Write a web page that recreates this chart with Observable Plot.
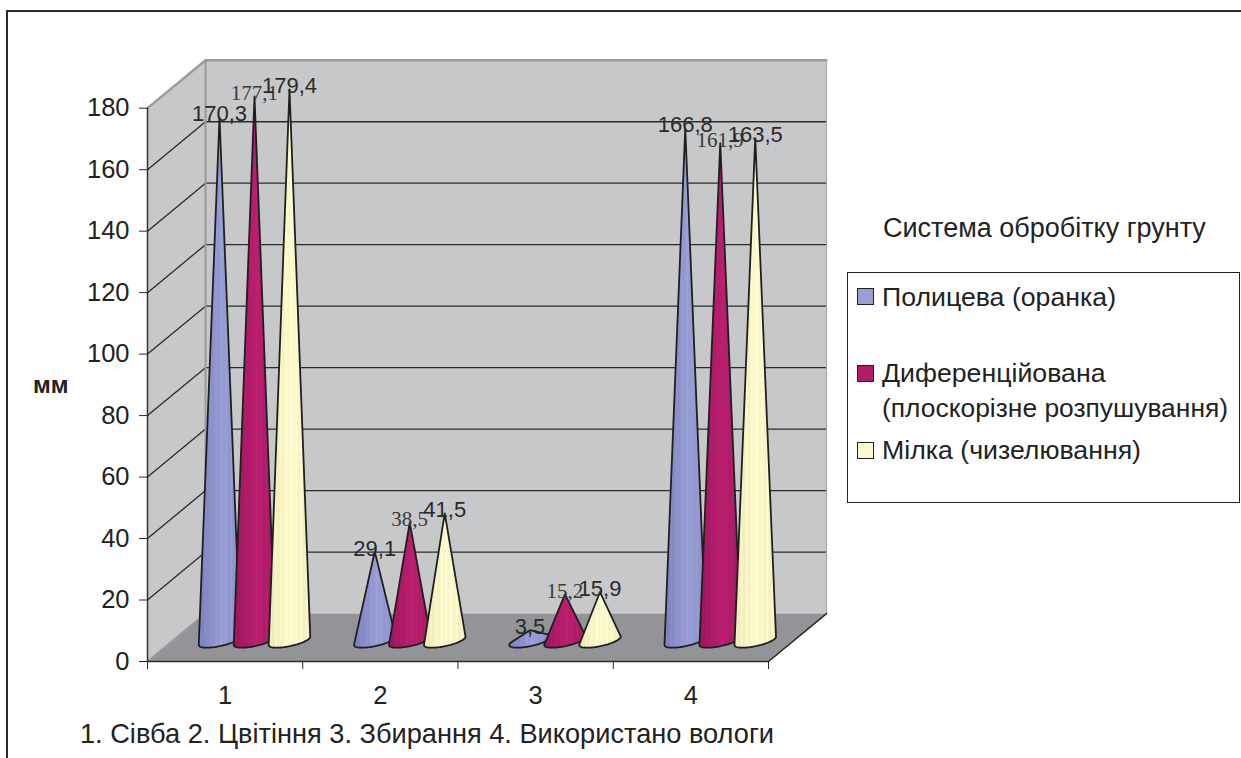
<!DOCTYPE html>
<html lang="uk">
<head>
<meta charset="utf-8">
<script src="https://cdn.jsdelivr.net/npm/d3@7"></script>
<script src="https://cdn.jsdelivr.net/npm/@observablehq/plot@0.6"></script>
<style>
html,body{margin:0;padding:0;background:#fff;width:1241px;height:758px;overflow:hidden;font-family:"Liberation Sans",Arial,sans-serif;color:#222}
#wrap{position:relative;width:1241px;height:758px}
#wrap svg{position:absolute;left:0;top:0;background:transparent}
.frame{position:absolute;left:5.5px;top:10px;right:0;bottom:0;border-left:2px solid #2a2a2a;border-top:2px solid #2a2a2a}
.t{position:absolute;white-space:nowrap;line-height:1}
.legend{position:absolute;left:846.5px;top:271.5px;width:391px;height:229px;border:1.5px solid #222}
.sw{position:absolute;width:15px;height:15px;border:1.3px solid #222;left:857px}
</style>
</head>
<body>
<div id="wrap">
  <div class="frame"></div>
  <div id="chart"></div>
  <div class="t" id="unit" style="left:33px;top:373px;font-size:24px;font-weight:bold">мм</div>
  <div class="t" id="caption" style="left:80px;top:719.5px;font-size:27.2px">1. Сівба 2. Цвітіння 3. Збирання 4. Використано вологи</div>
  <div class="t" id="legendTitle" style="left:883px;top:215px;font-size:27px">Система обробітку грунту</div>
  <div class="legend"></div>
  <div class="sw" style="top:288px;background:#9a9ed2"></div>
  <div class="sw" style="top:365px;background:#b01c68"></div>
  <div class="sw" style="top:442px;background:#fbf8cf"></div>
  <div class="t" style="left:882px;top:284px;font-size:26.7px">Полицева (оранка)</div>
  <div class="t" style="left:882px;top:360px;font-size:26.7px">Диференційована</div>
  <div class="t" style="left:882px;top:395px;font-size:26.4px">(плоскорізне розпушування)</div>
  <div class="t" style="left:882px;top:437px;font-size:26.7px">Мілка (чизелювання)</div>
</div>
<script>
const categories = [1, 2, 3, 4];
const polytseva = [170.3, 29.1, 3.5, 166.8];
const dyferents = [177.1, 38.5, 15.2, 161.9];
const milka = [179.4, 41.5, 15.9, 163.5];
const seriesValues = [polytseva, dyferents, milka];
const yTicks = [0, 20, 40, 60, 80, 100, 120, 140, 160, 180];

// oblique projection of the chart box, in scale units
const depthX = 0.3737, depthY = 15.6;
const baseDepthX = 0.161, baseDepthY = 6.7;
const groupStart = 0.3028, seriesStep = 0.2254;
const radiusX = 0.105, slantX = 0.083, slantY = 2.2;

const palettes = [
  ["#7a7ebc", "#979cd2", "#8a8fc7"],
  ["#9c165e", "#b81f6d", "#a51965"],
  ["#ecE9b6", "#fbf7cc", "#f1eebd"]
];
const labelStyles = [
  {fontFamily: "Liberation Sans", fontSize: 22, fill: "#2a2a2a", dy: -3},
  {fontFamily: "Liberation Serif", fontSize: 21, fill: "#3a3a3a", dy: -3},
  {fontFamily: "Liberation Sans", fontSize: 22, fill: "#2a2a2a", dy: -3}
];

const cones = [];
seriesValues.forEach((vals, s) => vals.forEach((v, i) => {
  const x = i + groupStart + baseDepthX + s * seriesStep;
  const pts = d3.range(60).map(k => {
    const t = k / 60 * 2 * Math.PI;
    return [x + Math.cos(t) * radiusX + Math.sin(t) * slantX, baseDepthY + Math.sin(t) * slantY];
  });
  pts.push([x, baseDepthY + v]);
  const hull = d3.polygonHull(pts);
  hull.push(hull[0]);
  cones.push({s, i, v, x, hull});
}));
cones.sort((a, b) => a.i - b.i || a.s - b.s);

function gradients(){
  const defs = d3.create("svg:defs");
  palettes.forEach((p, s) => {
    const g = defs.append("linearGradient").attr("id", "cone" + s).attr("x1", 0).attr("x2", 1).attr("y1", 0).attr("y2", 0);
    const mix = d3.scaleLinear().domain([0, .55, 1]).range(p);
    d3.range(25).forEach(k => {
      const o = k / 24, c = d3.rgb(mix(o));
      g.append("stop").attr("offset", o).attr("stop-color", (k % 3 === 1 ? c.brighter(.12) : c).formatHex());
    });
  });
  return defs.node();
}

const wall = "#c7c8ca", floor = "#939497", edge = "#9b9b9d", ink = "#2a2a2a";
const grid = yTicks.filter(d => d > 0 && d < 180);

const plot = Plot.plot({
  width: 1241, height: 758,
  marginLeft: 147, marginRight: 473, marginTop: 107.7, marginBottom: 97,
  x: {domain: [0, 4], label: null},
  y: {domain: [0, 180], label: null},
  style: {fontFamily: "Liberation Sans", color: "#222", overflow: "visible"},
  marks: [
    gradients,
    Plot.line([[0,0],[depthX,depthY],[depthX,180+depthY],[0,180],[0,0]], {x: d=>d[0], y: d=>d[1], fill: wall, stroke: "none"}),
    Plot.line([[depthX,depthY],[4+depthX,depthY],[4+depthX,180+depthY],[depthX,180+depthY],[depthX,depthY]], {x: d=>d[0], y: d=>d[1], fill: wall, stroke: "none"}),
    Plot.line([[0,0],[4,0],[4+depthX,depthY],[depthX,depthY],[0,0]], {x: d=>d[0], y: d=>d[1], fill: floor, stroke: "none"}),
    Plot.ruleY(grid, {y: d => d + depthY, x1: depthX, x2: 4 + depthX, stroke: ink, strokeWidth: 1.3}),
    Plot.link(grid, {x1: 0, y1: d => d, x2: depthX, y2: d => d + depthY, stroke: ink, strokeWidth: 1.3}),
    Plot.line([[0,180],[depthX,180+depthY],[4+depthX,180+depthY]], {x: d=>d[0], y: d=>d[1], stroke: edge, strokeWidth: 2.4}),
    Plot.line([[depthX,180+depthY],[depthX,depthY],[0,0]], {x: d=>d[0], y: d=>d[1], stroke: edge, strokeWidth: 2}),
    Plot.line([[4+depthX,180+depthY],[4+depthX,depthY]], {x: d=>d[0], y: d=>d[1], stroke: "#aaaaac", strokeWidth: 1.2}),
    Plot.line([[0,0],[4,0],[4+depthX,depthY]], {x: d=>d[0], y: d=>d[1], stroke: ink, strokeWidth: 1.6}),
    Plot.ruleX([0], {y1: 0, y2: 180, stroke: ink, strokeWidth: 1.4}),
    Plot.axisY({ticks: yTicks, tickSize: 8, tickPadding: 10, fontSize: 25.5, label: null, stroke: ink, fill: "#222"}),
    Plot.axisX({ticks: [0,1,2,3,4], tickSize: 8, tickFormat: () => "", label: null, stroke: ink}),
    Plot.axisX({ticks: categories.map(c => c - 0.5), tickSize: 0, tickPadding: 24, fontSize: 25.5, tickFormat: d => d + 0.5, label: null, fill: "#222", stroke: "none"}),
    ...cones.map(c => Plot.line(c.hull, {x: d=>d[0], y: d=>d[1], fill: `url(#cone${c.s})`, stroke: "#1f1f1f", strokeWidth: 1.8, strokeLinejoin: "round"})),
    ...labelStyles.map((st, s) => Plot.text(cones.filter(c => c.s === s), {
      x: "x", y: c => c.v + baseDepthY, text: c => c.v.toFixed(1).replace(".", ","),
      textAnchor: "middle", lineAnchor: "middle", ...st
    }))
  ]
});
document.getElementById("chart").appendChild(plot);
</script>
</body>
</html>
